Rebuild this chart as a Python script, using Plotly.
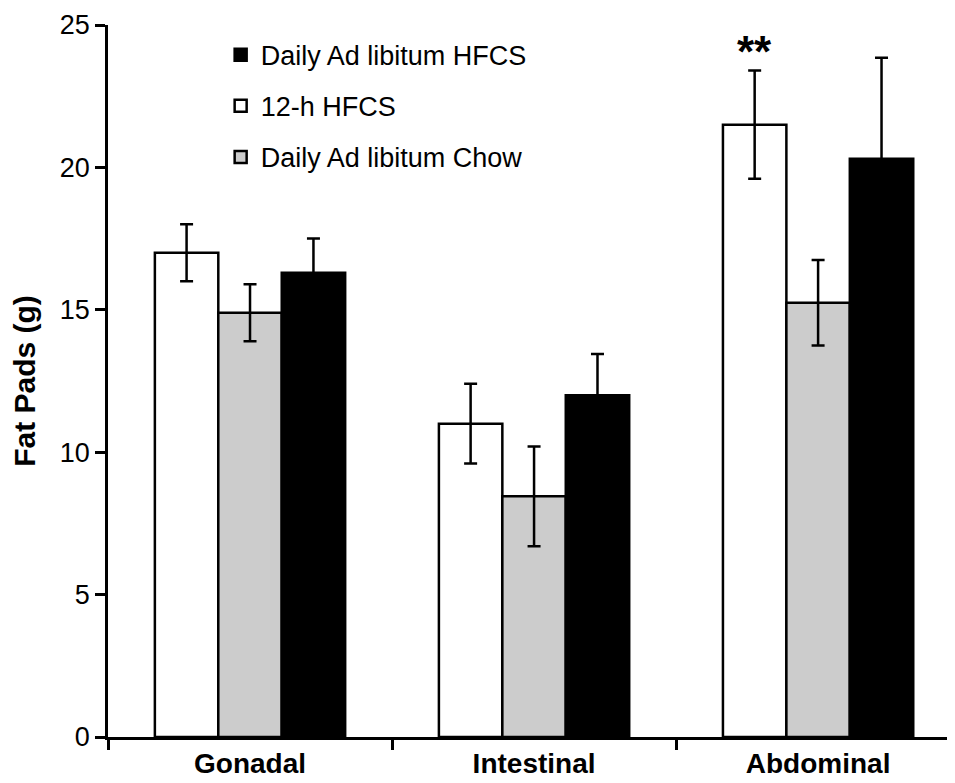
import plotly.graph_objects as go

# Fat pad mass by depot and diet group
CATEGORIES = ["Gonadal", "Intestinal", "Abdominal"]

HFCS_12H = [17.0, 11.0, 21.5]
HFCS_12H_ERR = [1.0, 1.4, 1.9]

CHOW = [14.9, 8.45, 15.25]
CHOW_ERR = [1.0, 1.75, 1.5]

HFCS_ADLIB = [16.3, 12.0, 20.3]
HFCS_ADLIB_ERR = [1.2, 1.45, 3.55]

FONT = "Liberation Sans, Arial, Helvetica, sans-serif"
BARGAP = 0.33

fig = go.Figure()


def add_bars(name, values, errors, fill, rank):
    fig.add_trace(go.Bar(
        x=CATEGORIES,
        y=values,
        name=name,
        legendrank=rank,
        legendgroup=name,
        marker=dict(color=fill, line=dict(color="black", width=2.5)),
        error_y=dict(type="data", array=errors, visible=True,
                     color="black", thickness=2.5, width=6.5),
    ))


add_bars("12-h HFCS", HFCS_12H, HFCS_12H_ERR, "white", 2)
add_bars("Daily Ad libitum Chow", CHOW, CHOW_ERR, "#cccccc", 3)
add_bars("Daily Ad libitum HFCS", HFCS_ADLIB, HFCS_ADLIB_ERR, "black", 1)

# significance marker over the 12-h HFCS abdominal bar
bar_w = (1 - BARGAP) / 3
fig.add_annotation(
    x=2 - bar_w, y=HFCS_12H[2] + HFCS_12H_ERR[2],
    xref="x", yref="y", text="<b>**</b>", showarrow=False,
    yanchor="bottom", yshift=-7,
    font=dict(family=FONT, size=44, color="black"),
)

# the page body adds an 8px margin, so the figure is a bit smaller than the window
fig.update_layout(
    width=947, height=775,
    plot_bgcolor="white", paper_bgcolor="white",
    barmode="group", bargap=BARGAP, bargroupgap=0,
    margin=dict(l=100, r=0, t=17, b=46),
    font=dict(family=FONT, color="black", size=27),
    legend=dict(
        x=0.133, y=0.992, xanchor="left", yanchor="top",
        bgcolor="rgba(0,0,0,0)", tracegroupgap=13,
        font=dict(family=FONT, size=27, color="black"),
        traceorder="grouped",
    ),
    xaxis=dict(
        range=[-0.5, 2.482], automargin=False,
        showline=True, linecolor="black", linewidth=2.5,
        ticks="outside", tickson="boundaries", ticklen=10,
        tickwidth=2.5, tickcolor="black",
        tickfont=dict(family=FONT, size=28, weight="bold"),
        showgrid=False, zeroline=False,
    ),
    yaxis=dict(
        range=[0, 25], tickvals=[0, 5, 10, 15, 20, 25], automargin=False,
        ticklabeloverflow="allow",
        showline=True, linecolor="black", linewidth=2.5,
        ticks="outside", ticklen=10, tickwidth=2.5, tickcolor="black",
        tickfont=dict(family=FONT, size=27),
        showgrid=False, zeroline=False,
        title=dict(text="Fat Pads (g)", standoff=18,
                   font=dict(family=FONT, size=30, weight="bold")),
    ),
)

fig.write_html("out.html")
